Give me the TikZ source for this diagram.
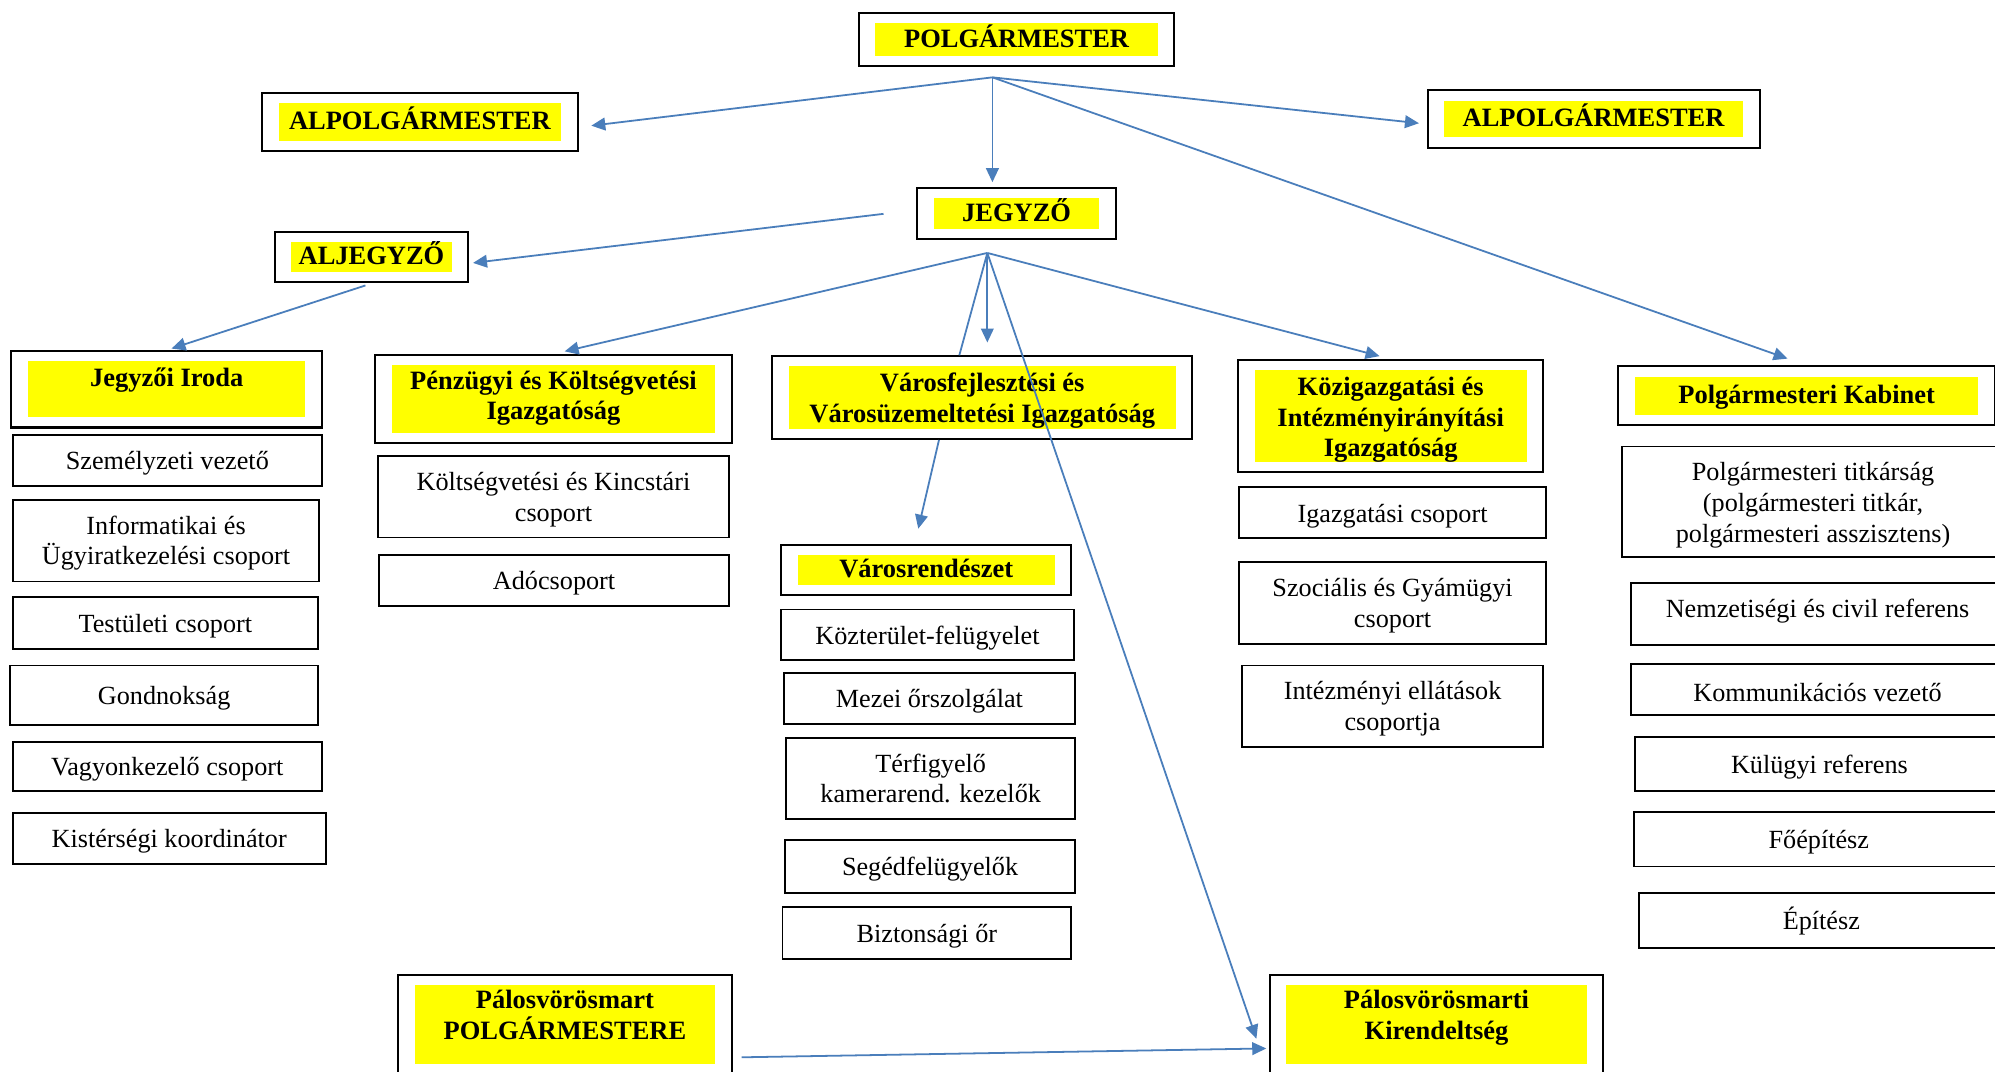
\documentclass[tikz,border=0pt]{standalone}
\usepackage{fontspec}
\setmainfont{Liberation Serif}
\usepackage{tikz}
\usetikzlibrary{arrows.meta, positioning, fit, calc}
\definecolor{linkblue}{RGB}{74,126,187}
\definecolor{hlyellow}{RGB}{255,255,0}
\tikzset{
  headbox/.style={fill=hlyellow, inner sep=0pt, outer sep=0pt, align=center,
                  font=\fontsize{20.8}{24}\selectfont\bfseries},
  oneline/.style={text height=15pt, text depth=3pt},
  headframe/.style={draw, line width=1.6pt, inner xsep=13pt, inner ysep=8pt},
  unitbox/.style={draw, line width=1.4pt, inner sep=0pt, align=center,
                  font=\fontsize{20.6}{24}\selectfont,
                  execute at begin node={\rule{0pt}{19pt}}},
  twoline/.style={text height=51pt, text depth=13pt},
  link/.style={-{Triangle[length=11pt, width=10pt]}, line width=1.4pt, draw=linkblue},
  plainlink/.style={line width=1.4pt, draw=linkblue},
}

\begin{document}
\begin{tikzpicture}[x=1pt, y=-1pt]
  \useasboundingbox (0,0) rectangle (1568,842);
  \fill[white] (0,0) rectangle (1568,842);
  \clip (0,0) rectangle (1568,842);

  % Leaders
  \node[headbox, oneline, minimum width=222pt, minimum height=26pt] (polg) at (799,31) {POLGÁRMESTER};
  \node[headframe, fit=(polg)] (polgbox) {};
  \node[headbox, oneline, minimum width=222pt, minimum height=30pt] (alpolL) at (330,96) {ALPOLGÁRMESTER};
  \node[headframe, fit=(alpolL)] (alpolLbox) {};
  \node[headbox, oneline, minimum width=235pt, minimum height=29pt] (alpolR) at (1252.5,93.5) {ALPOLGÁRMESTER};
  \node[headframe, fit=(alpolR)] (alpolRbox) {};
  \node[headbox, oneline, minimum width=130pt, minimum height=24pt] (jegyzo) at (799,168) {JEGYZŐ};
  \node[headframe, fit=(jegyzo)] (jegyzobox) {};
  \node[headbox, oneline, minimum width=126pt, minimum height=24pt] (aljegyzo) at (292,202) {ALJEGYZŐ};
  \node[headframe, fit=(aljegyzo)] (aljegyzobox) {};

  % Directorates
  \node[headbox, minimum width=218pt, text height=17pt, text depth=21pt, inner ysep=3pt]
    (iroda) at (131,306) {Jegyzői Iroda};
  \node[headframe, fit=(iroda)] (irodabox) {};
  \node[headbox, minimum width=254pt, text height=43pt, text depth=10pt] (penz) at (435,313.5)
    {Pénzügyi és Költségvetési\\Igazgatóság};
  \node[headframe, fit=(penz)] (penzbox) {};
  \node[headbox, minimum width=304pt, text height=44pt, text depth=5pt] (varos) at (772,312.5)
    {Városfejlesztési és\\Városüzemeltetési Igazgatóság};
  \node[headframe, fit=(varos)] (varosbox) {};
  \node[headbox, minimum width=214pt, text height=68pt, text depth=4pt] (kozig) at (1093,327)
    {Közigazgatási és\\Intézményirányítási\\Igazgatóság};
  \node[headframe, fit=(kozig)] (kozigbox) {};
  \node[headbox, oneline, minimum width=270pt, minimum height=30pt] (kabinet) at (1420,311)
    {Polgármesteri Kabinet};
  \node[headframe, fit=(kabinet)] (kabinetbox) {};
  \node[headbox, oneline, minimum width=202pt, minimum height=24pt] (varosr) at (728,448) {Városrendészet};
  \node[headframe, fit=(varosr)] (varosrbox) {};
  \node[headbox, minimum width=236pt, text height=43pt, text depth=19pt] (palpolg) at (444,805)
    {Pálosvörösmart\\POLGÁRMESTERE};
  \node[headframe, fit=(palpolg)] (palpolgbox) {};
  \node[headbox, minimum width=236pt, text height=43pt, text depth=19pt] (kirend) at (1129,805)
    {Pálosvörösmarti\\Kirendeltség};
  \node[headframe, fit=(kirend)] (kirendbox) {};

  % Jegyzői Iroda units
  \node[unitbox, minimum width=243pt, minimum height=40pt] (szemely) at (131.5,362) {Személyzeti vezető};
  \node[unitbox, twoline, minimum width=241pt] (info) at (130.5,425)
    {Informatikai és\\Ügyiratkezelési csoport};
  \node[unitbox, minimum width=240pt, minimum height=41pt] (testulet) at (130,489.5) {Testületi csoport};
  \node[unitbox, minimum width=242pt, minimum height=47pt] (gondnok) at (129,546.5) {Gondnokság};
  \node[unitbox, minimum width=243pt, minimum height=39pt] (vagyon) at (131.5,602.5) {Vagyonkezelő csoport};
  \node[unitbox, minimum width=246pt, minimum height=40pt] (kisterseg) at (133,659) {Kistérségi koordinátor};

  % Pénzügyi units
  \node[unitbox, twoline, minimum width=276pt] (koltseg) at (435,390.5)
    {Költségvetési és Kincstári\\csoport};
  \node[unitbox, minimum width=275pt, minimum height=40pt] (ado) at (435.5,456) {Adócsoport};

  % Városrendészet units
  \node[unitbox, minimum width=230pt, minimum height=40pt] (kozter) at (729,499) {Közterület-felügyelet};
  \node[unitbox, minimum width=229pt, minimum height=40pt] (mezei) at (730.5,549) {Mezei őrszolgálat};
  \node[unitbox, twoline, minimum width=227pt] (terfigy) at (731.5,612)
    {Térfigyelő\\kamerarend. kezelők};
  \node[unitbox, minimum width=228pt, minimum height=42pt] (seged) at (731,681) {Segédfelügyelők};
  \node[unitbox, minimum width=227pt, minimum height=41pt] (bizt) at (728.5,733.5) {Biztonsági őr};

  % Közigazgatási units
  \node[unitbox, minimum width=241pt, minimum height=40pt] (igcsop) at (1094.5,403) {Igazgatási csoport};
  \node[unitbox, twoline, minimum width=241pt] (szocial) at (1094.5,474)
    {Szociális és Gyámügyi\\csoport};
  \node[unitbox, twoline, minimum width=237pt] (intezm) at (1094.5,555)
    {Intézményi ellátások\\csoportja};

  % Kabinet units
  \node[unitbox, minimum width=300pt, text height=75pt, text depth=12pt] (titkar) at (1425,394.5)
    {Polgármesteri titkárság\\(polgármesteri titkár,\\polgármesteri asszisztens)};
  \node[unitbox, minimum width=293pt, text height=27pt, text depth=22pt] (nemzet) at (1428.5,482.5)
    {Nemzetiségi és civil referens};
  \node[unitbox, minimum width=293pt, minimum height=40pt] (kommun) at (1428.5,542) {Kommunikációs vezető};
  \node[unitbox, minimum width=290pt, minimum height=43pt] (kulugy) at (1430,600.5) {Külügyi referens};
  \node[unitbox, minimum width=291pt, minimum height=43pt] (foepit) at (1429.5,659.5) {Főépítész};
  \node[unitbox, minimum width=287pt, minimum height=43pt] (epitesz) at (1431.5,723.5) {Építész};

  % Fan-out points
  \coordinate[below=8pt of polgbox.south, xshift=-19pt] (polgout);
  \coordinate[below=10pt of jegyzobox.south, xshift=-23pt] (jegyzout);

  % Links
  \draw[link, shorten >=10pt] (polgout) -- ($(alpolLbox.east)+(0,4)$);
  \draw[link, shorten >=6pt] (polgout) -- ($(alpolRbox.west)+(0,4)$);
  \draw[link, shorten >=4pt] (polgout) -- (polgout |- jegyzobox.north);
  \draw[link, shorten >=16pt] (polgout) -- (kabinetbox.north);

  \draw[link, shorten <=26pt, shorten >=3pt] ($(jegyzobox.west)+(0,-3)$) -- ($(aljegyzobox.east)+(0,5)$);
  \draw[link, shorten <=5pt, shorten >=4pt] (aljegyzobox.south) -- (irodabox.north);

  \draw[link, shorten >=9pt] (jegyzout) -- (penzbox.north);
  \draw[link, shorten >=10pt] (jegyzout) -- (jegyzout |- varosbox.north);
  \draw[plainlink] (jegyzout) -- ($(varosbox.north)+(-18,0)$);
  \draw[link, shorten >=9pt] (jegyzout) -- (kozigbox.north);
  \draw[link, shorten >=30pt] (jegyzout) -- (kirendbox.south west);

  \draw[link, shorten >=12pt] ($(varosbox.south)+(-34,0)$) -- ($(varosrbox.north)+(-9,0)$);
  \draw[link, shorten >=2pt] ($(palpolgbox.east)+(7,26)$) -- ($(kirendbox.west)+(0,19)$);
\end{tikzpicture}
\end{document}
